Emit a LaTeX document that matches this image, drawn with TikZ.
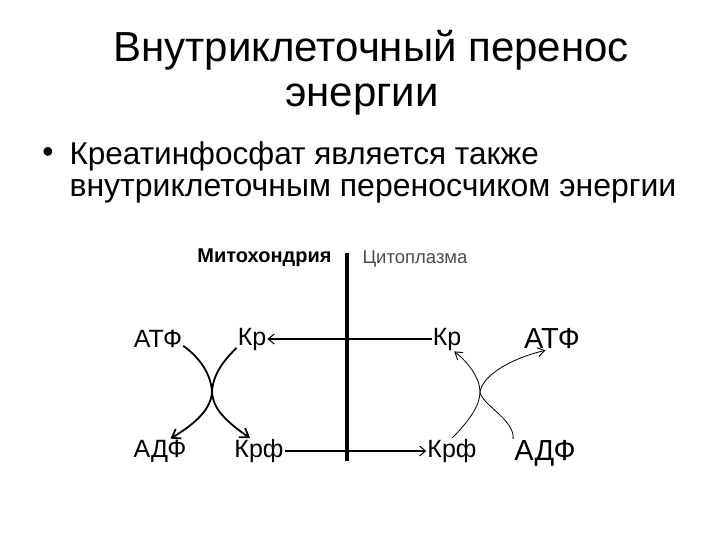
\documentclass[tikz,border=0pt]{standalone}
\usepackage{fontspec}
\setmainfont{Liberation Sans}
\usetikzlibrary{arrows.meta}
\tikzset{
  lbl/.style={font=\fontsize{25}{27}\selectfont,inner sep=1pt},
  biglbl/.style={font=\fontsize{29}{31}\selectfont,inner sep=1pt},
  flux/.style={line width=2.2pt,-{Straight Barb[length=6pt,width=10pt,line width=1pt]}},
  react/.style={line width=1.8pt,-{Straight Barb[length=8pt,width=11pt]}},
  thinreact/.style={line width=0.8pt,-{Straight Barb[length=7pt,width=9pt,line width=0.9pt]}}
}

\begin{document}
\begin{tikzpicture}[x=1pt,y=-1pt]
  \useasboundingbox (0,0) rectangle (720,540);
  % heading
  \node[font=\fontsize{42}{46}\selectfont] (title1) at (371,50) {Внутриклеточный перенос};
  \node[font=\fontsize{42}{46}\selectfont] (title2) at (362,100) {энергии};
  \node[font=\fontsize{32}{34}\selectfont] (dot) at (48,155) {•};
  \node[anchor=west,font=\fontsize{31.5}{34}\selectfont] (line1) at (66,156) {Креатинфосфат является также};
  \node[anchor=west,font=\fontsize{32}{34}\selectfont] (line2) at (66,191) {внутриклеточным переносчиком энергии};
  % membrane
  \coordinate (mtop) at (347,253);
  \coordinate (mbot) at (347,461);
  \draw[line width=3.6pt] (mtop) -- (mbot);
  \node[anchor=east,font=\fontsize{20}{22}\selectfont\bfseries] (mito) at (335,258) {Митохондрия};
  \node[anchor=west,font=\fontsize{18.5}{20}\selectfont,black!70] (cyto) at (359,259) {Цитоплазма};
  % mitochondria side
  \node[lbl] (atpL) at (158,339) {АТФ};
  \node[lbl] (crL) at (252,339) {Кр};
  \node[lbl] (adpL) at (160,451) {АДФ};
  \node[lbl] (crpL) at (259,451) {Крф};
  % cytoplasm side
  \node[lbl] (crR) at (447,339) {Кр};
  \node[biglbl] (atpR) at (552,339) {АТФ};
  \node[lbl] (crpR) at (452,451) {Крф};
  \node[biglbl] (adpR) at (545,453) {АДФ};
  % transport
  \draw[flux] (crR.west) -- (crL.east);
  \draw[flux] (crpL.east) -- (crpR.west);
  % reactions
  \draw[react] (atpL.-15) .. controls (200,358) and (211,374) .. (212,392)
    .. controls (213,408) and (224,420) .. (crpL.125);
  \draw[react] (crL.-150) .. controls (224,360) and (213,374) .. (212,392)
    .. controls (211,408) and (198,422) .. (adpL.50);
  \draw[thinreact] (crpR.north) .. controls (470,420) and (480,405) .. (480,392)
    .. controls (480,378) and (468,362) .. (crR.-60);
  \draw[thinreact] (adpR.north west) .. controls (515,420) and (482,405) .. (480,392)
    .. controls (482,378) and (505,360) .. (atpR.-120);
\end{tikzpicture}
\end{document}
